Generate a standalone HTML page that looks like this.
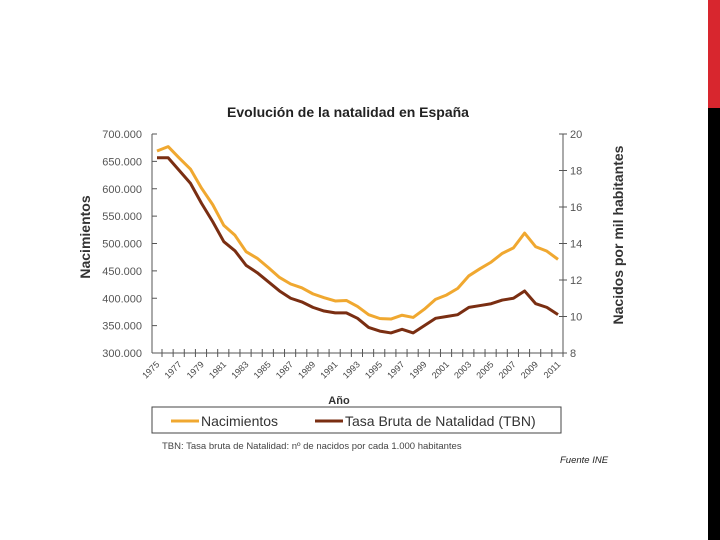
<!DOCTYPE html>
<html><head><meta charset="utf-8"><style>
html,body{margin:0;padding:0;background:#fff;}
body{width:720px;height:540px;position:relative;overflow:hidden;font-family:"Liberation Sans",sans-serif;}
</style></head><body>
<div style="position:absolute;left:708px;top:0;width:12px;height:108px;background:#d8262e"></div>
<div style="position:absolute;left:708px;top:108px;width:12px;height:432px;background:#000"></div>
<svg id="chart" width="720" height="540" style="position:absolute;left:0;top:0" font-family="Liberation Sans, sans-serif"></svg>
<script>
const years = [1975,1976,1977,1978,1979,1980,1981,1982,1983,1984,1985,1986,1987,1988,1989,1990,1991,1992,1993,1994,1995,1996,1997,1998,1999,2000,2001,2002,2003,2004,2005,2006,2007,2008,2009,2010,2011];
const births = [669000,677000,656000,636000,601000,571000,533000,515000,485000,473000,456000,438000,426000,419000,408000,401000,395000,396000,385000,370000,363000,362000,369000,365000,380000,398000,406000,418000,441000,454000,466000,482000,492000,519000,494000,486000,471000];
const tbn = [18.7,18.7,18.0,17.3,16.2,15.2,14.1,13.6,12.8,12.4,11.9,11.4,11.0,10.8,10.5,10.3,10.2,10.2,9.9,9.4,9.2,9.1,9.3,9.1,9.5,9.9,10.0,10.1,10.5,10.6,10.7,10.9,11.0,11.4,10.7,10.5,10.1];
const leftTicks = [300000,350000,400000,450000,500000,550000,600000,650000,700000];
const rightTicks = [8,10,12,14,16,18,20];
const xLabels = [1975,1977,1979,1981,1983,1985,1987,1989,1991,1993,1995,1997,1999,2001,2003,2005,2007,2009,2011];

const svg = document.getElementById('chart');
const NS = 'http://www.w3.org/2000/svg';
const X0 = 152, X1 = 563, Y0 = 353, Y1 = 134;
const PX0 = 157, PX1 = 558;
function x(yr){ return PX0 + (yr - years[0]) / (years[years.length-1] - years[0]) * (PX1 - PX0); }
function yL(v){ return Y0 - (v - 300000) / 400000 * (Y0 - Y1); }
function yR(v){ return Y0 - (v - 8) / 12 * (Y0 - Y1); }
function mk(tag, attrs, parent){ const e = document.createElementNS(NS, tag); for (const k in attrs) e.setAttribute(k, attrs[k]); (parent||svg).appendChild(e); return e; }
function fmt(v){ return String(v).replace(/\B(?=(\d{3})+(?!\d))/g, '.'); }

let t = mk('text',{x:348,y:117,'text-anchor':'middle','font-size':14,'font-weight':'bold',fill:'#222'});
t.textContent = 'Evolución de la natalidad en España';



let a = mk('line',{x1:X0,y1:Y1,x2:X0,y2:Y0,stroke:'#555','stroke-width':1});


a = mk('line',{x1:X1,y1:Y1,x2:X1,y2:Y0,stroke:'#555','stroke-width':1});


a = mk('line',{x1:X0,y1:Y0,x2:X1,y2:Y0,stroke:'#555','stroke-width':1});



leftTicks.forEach(v => {
  const yy = yL(v);
  mk('line',{x1:X0,y1:yy,x2:X0+5,y2:yy,stroke:'#555'});
  const l = mk('text',{x:142,y:yy+4,'text-anchor':'end','font-size':11,fill:'#555'});
  l.textContent = fmt(v);
  
  
});
rightTicks.forEach(v => {
  const yy = yR(v);
  mk('line',{x1:X1-4,y1:yy,x2:X1+4,y2:yy,stroke:'#555'});
  const l = mk('text',{x:570,y:yy+4,'font-size':11,fill:'#555'});
  l.textContent = v;
  
  
});
years.forEach(yr => { mk('line',{x1:x(yr)+5,y1:Y0-4,x2:x(yr)+5,y2:Y0+4,stroke:'#555'}); });
xLabels.forEach(yr => {
  const xx = x(yr) + 3, yy = Y0 + 12;
  const l = mk('text',{x:xx,y:yy,'text-anchor':'end','font-size':9,fill:'#444',transform:`rotate(-45 ${xx} ${yy})`});
  l.textContent = yr;
  
  
});

let p = mk('polyline',{points:births.map((v,i)=>x(years[i])+','+yL(v)).join(' '),fill:'none',stroke:'#f0a830','stroke-width':3,'stroke-linejoin':'round'});


p = mk('polyline',{points:tbn.map((v,i)=>x(years[i])+','+yR(v)).join(' '),fill:'none',stroke:'#7a2e12','stroke-width':3,'stroke-linejoin':'round'});



t = mk('text',{x:0,y:0,'text-anchor':'middle','font-size':14,'font-weight':'bold',fill:'#333',transform:'translate(90 237) rotate(-90)'});
t.textContent = 'Nacimientos';


t = mk('text',{x:0,y:0,'text-anchor':'middle','font-size':14,'font-weight':'bold',fill:'#333',transform:'translate(623 235) rotate(-90)'});
t.textContent = 'Nacidos por mil habitantes';


t = mk('text',{x:339,y:404,'text-anchor':'middle','font-size':11,'font-weight':'bold',fill:'#333'});
t.textContent = 'Año';



const lg = mk('g',{});


mk('rect',{x:152,y:407,width:409,height:26,fill:'#fff',stroke:'#444','stroke-width':1},lg);
mk('line',{x1:171,y1:421,x2:199,y2:421,stroke:'#f0a830','stroke-width':3},lg);
t = mk('text',{x:201,y:426,'font-size':14,fill:'#333'},lg);
t.textContent = 'Nacimientos';


mk('line',{x1:315,y1:421,x2:343,y2:421,stroke:'#7a2e12','stroke-width':3},lg);
t = mk('text',{x:345,y:426,'font-size':14,fill:'#333'},lg);
t.textContent = 'Tasa Bruta de Natalidad (TBN)';



t = mk('text',{x:162,y:449,'font-size':9.5,fill:'#444'});
t.textContent = 'TBN: Tasa bruta de Natalidad: nº de nacidos por cada 1.000 habitantes';


t = mk('text',{x:560,y:463,'font-size':9.5,'font-style':'italic',fill:'#222'});
t.textContent = 'Fuente INE';


</script>
</body></html>
